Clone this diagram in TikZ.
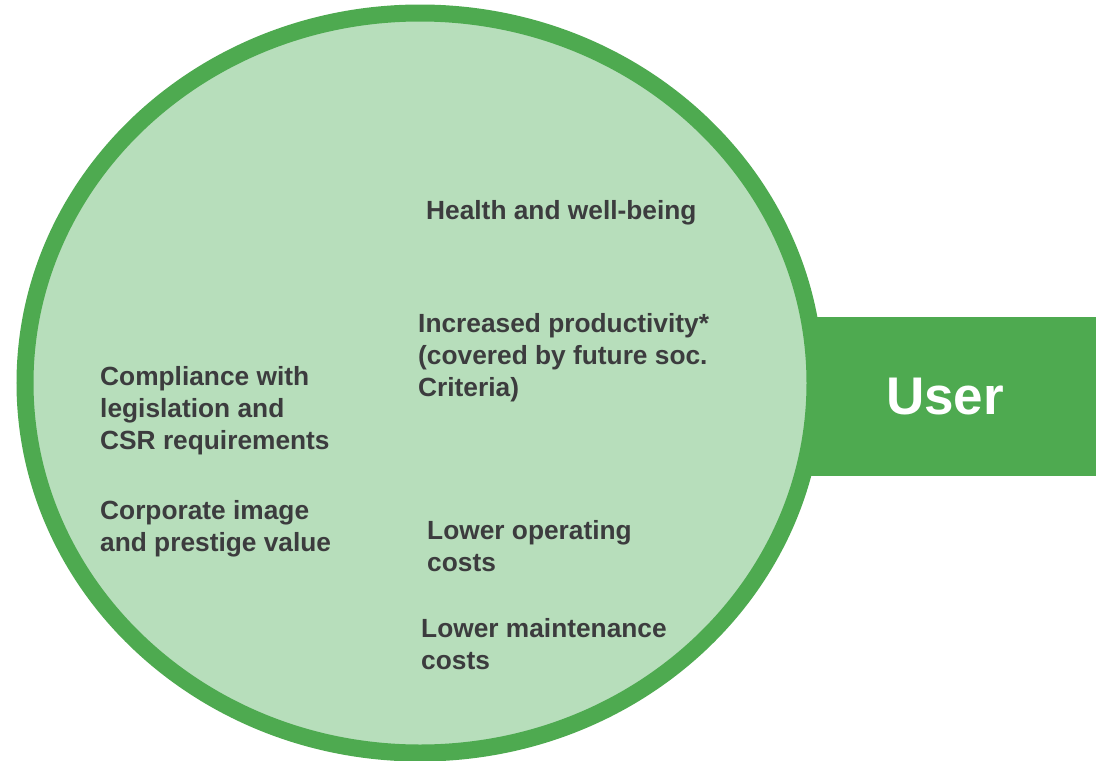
\documentclass[tikz,border=0pt]{standalone}
\usepackage{fontspec}
\setmainfont{Liberation Sans}
\usetikzlibrary{shapes}
\definecolor{ringgreen}{HTML}{4EAA50}
\definecolor{fillgreen}{HTML}{B7DEBB}
\definecolor{txtgray}{HTML}{3C3C3E}
\newcommand{\bentext}{\fontsize{26.3}{31.8}\selectfont\bfseries}
\tikzset{
  benefit/.style={anchor=base west, inner sep=0pt, align=left, text=txtgray, font=\bentext},
  usertab/.style={fill=ringgreen, draw=none}
}
\begin{document}
\begin{tikzpicture}[x=1pt,y=-1pt]
\useasboundingbox (0,0) rectangle (1096,761);
% the tab on the right
\fill[ringgreen] (800,317) rectangle (1096,476);
% the big ring
\draw[ringgreen, line width=17pt, fill=fillgreen] (420,383) ellipse [x radius=395, y radius=370];
\node[text=white, font=\fontsize{53}{60}\selectfont\bfseries] (user) at (945,397) {User};
% right column (base = last line)
\node[benefit] (health) at (426,219) {Health and well-being};
\node[benefit] (prod) at (418,396) {Increased productivity*\\(covered by future soc.\\Criteria)};
\node[benefit] (operating) at (427,571) {Lower operating\\costs};
\node[benefit] (maint) at (421,669) {Lower maintenance\\costs};
% left column
\node[benefit] (comply) at (100,449) {Compliance with\\legislation and\\CSR requirements};
\node[benefit] (image) at (100,551) {Corporate image\\and prestige value};
\end{tikzpicture}
\end{document}
